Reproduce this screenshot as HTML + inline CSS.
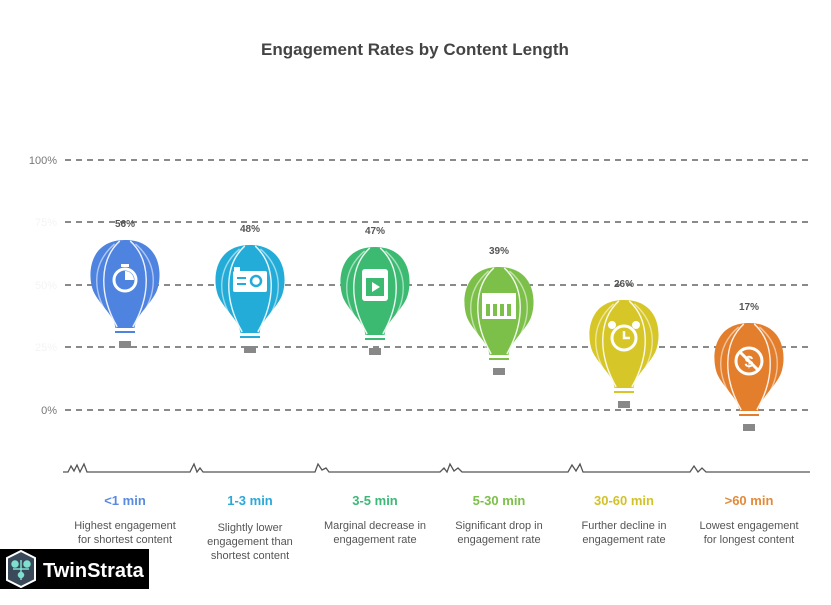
<!DOCTYPE html>
<html><head><meta charset="utf-8"><style>
body{margin:0;background:#fff;width:831px;height:600px;overflow:hidden;font-family:"Liberation Sans",sans-serif}
</style></head><body>
<svg width="831" height="600" xmlns="http://www.w3.org/2000/svg" font-family="Liberation Sans, sans-serif">
<rect width="831" height="600" fill="#fff"/>
<text x="415" y="55" text-anchor="middle" font-size="17" font-weight="bold" fill="#444">Engagement Rates by Content Length</text>
<g stroke="#444" stroke-width="1.3" stroke-dasharray="6,5">
<line x1="65" y1="160" x2="812" y2="160"/><line x1="65" y1="222" x2="812" y2="222"/><line x1="65" y1="285" x2="812" y2="285"/><line x1="65" y1="347" x2="812" y2="347"/><line x1="65" y1="410" x2="812" y2="410"/>
</g>
<g font-size="11" fill="#777" text-anchor="end">
<text x="57" y="164">100%</text><text x="57" y="414">0%</text>
<text x="57" y="226" fill="#f4f4f4">75%</text><text x="57" y="289" fill="#f4f4f4">50%</text><text x="57" y="351" fill="#f4f4f4">25%</text>
</g>
<defs>
<g id="b">
<g transform="scale(0.87,1)">
<path d="M0,0 C42,0 44,36 36,52 C28,66 12,76 11,88 L-11,88 C-12,76 -28,66 -36,52 C-44,36 -42,0 0,0 Z"/>
<g fill="none" stroke="#fff" stroke-width="1.6" opacity="0.9">
<path d="M-6,1 C-30,20 -30,55 -9,87"/><path d="M6,1 C30,20 30,55 9,87"/>
<path d="M-12,4 C-40,25 -38,55 -14,82" opacity="0.6"/><path d="M12,4 C40,25 38,55 14,82" opacity="0.6"/>
</g>
</g>
<rect x="-10" y="89" width="20" height="2" fill="#fff" stroke="none"/>
<rect x="-10" y="91" width="20" height="2"/>
<rect x="-6" y="101" width="12" height="7" fill="#888"/>
</g>
</defs>
<g font-size="10" font-weight="bold" fill="#555" text-anchor="middle">
<g transform="translate(125,240)" fill="#4f83e0"><use href="#b"/><circle cx="0" cy="40" r="11" fill="none" stroke="#fff" stroke-width="3"/><rect x="-4" y="24" width="8" height="3" fill="#fff"/><path d="M0,40 L0,31 A9,9 0 0 1 9,40 Z" fill="#fff"/></g>
<text x="125" y="227">56%</text>
<g transform="translate(250,245)" fill="#24acd9"><use href="#b"/><rect x="-17" y="26" width="34" height="21" rx="2" fill="#fff"/><rect x="-16" y="22" width="6" height="4" fill="#fff"/><circle cx="6" cy="36" r="5" fill="none" stroke="#24acd9" stroke-width="2.5"/><rect x="-13" y="32" width="9" height="2" fill="#24acd9"/><rect x="-13" y="38" width="9" height="2" fill="#24acd9"/></g>
<text x="250" y="232">48%</text>
<g transform="translate(375,247)" fill="#3cba72"><use href="#b"/><rect x="-13" y="22" width="26" height="32" rx="3" fill="#fff"/><rect x="-9" y="31" width="18" height="18" fill="#3cba72"/><path d="M-3,35 L5,40 L-3,45 Z" fill="#fff"/></g>
<text x="375" y="234">47%</text>
<g transform="translate(499,267)" fill="#7cc04a"><use href="#b"/><rect x="-17" y="26" width="34" height="26" fill="#fff"/><g fill="#7cc04a"><rect x="-13" y="37" width="4" height="12"/><rect x="-6" y="37" width="4" height="12"/><rect x="1" y="37" width="4" height="12"/><rect x="8" y="37" width="4" height="12"/></g></g>
<text x="499" y="254">39%</text>
<g transform="translate(624,300)" fill="#d7c628"><use href="#b"/><circle cx="0" cy="38" r="12" fill="none" stroke="#fff" stroke-width="3"/><path d="M0,31 L0,38 L6,38" fill="none" stroke="#fff" stroke-width="2.5"/><circle cx="-12" cy="25" r="4" fill="#fff"/><circle cx="12" cy="25" r="4" fill="#fff"/></g>
<text x="624" y="287">26%</text>
<g transform="translate(749,323)" fill="#e37e2c"><use href="#b"/><circle cx="0" cy="38" r="13" fill="none" stroke="#fff" stroke-width="3"/><path d="M-9,29 L9,47" stroke="#fff" stroke-width="3"/><text x="0" y="44" fill="#fff" font-size="16">$</text></g>
<text x="749" y="310">17%</text>
</g>
<g fill="none" stroke="#555" stroke-width="1.3">
<path d="M63,472 L68,472 L71,466 L74,471 L77,465 L80,472 L84,464 L87,472 L190,472 L194,464 L197,472 L200,468 L203,472 L315,472 L318,464 L322,470 L326,468 L329,472 L440,472 L444,468 L447,472 L450,464 L454,471 L458,468 L462,472 L568,472 L572,465 L576,471 L580,464 L583,472 L690,472 L694,466 L698,472 L702,468 L706,472 L810,472"/>
</g>
<g font-size="13" font-weight="bold" text-anchor="middle">
<text x="125" y="505" fill="#5a8ae0">&lt;1 min</text>
<text x="250" y="505" fill="#2aa8d8">1-3 min</text>
<text x="375" y="505" fill="#3db878">3-5 min</text>
<text x="499" y="505" fill="#7cc04a">5-30 min</text>
<text x="624" y="505" fill="#d2c22a">30-60 min</text>
<text x="749" y="505" fill="#e28a3a">&gt;60 min</text>
</g>
<g font-size="11" fill="#555" text-anchor="middle">
<text x="125" y="529">Highest engagement</text><text x="125" y="543">for shortest content</text>
<text x="250" y="531">Slightly lower</text><text x="250" y="545">engagement than</text><text x="250" y="559">shortest content</text>
<text x="375" y="529">Marginal decrease in</text><text x="375" y="543">engagement rate</text>
<text x="499" y="529">Significant drop in</text><text x="499" y="543">engagement rate</text>
<text x="624" y="529">Further decline in</text><text x="624" y="543">engagement rate</text>
<text x="749" y="529">Lowest engagement</text><text x="749" y="543">for longest content</text>
</g>
<rect x="0" y="549" width="149" height="40" fill="#000"/>
<path d="M21,551 L35,558 L35,580 L21,587 L7,580 L7,558 Z" fill="#3a4a5a" stroke="#fff" stroke-width="2"/>
<g stroke="#7fe0d0" stroke-width="1.5" fill="#7fe0d0"><line x1="21" y1="560" x2="21" y2="580"/><line x1="13" y1="569" x2="29" y2="569"/><circle cx="15" cy="564" r="3"/><circle cx="27" cy="564" r="3"/><circle cx="21" cy="575" r="2.5"/></g>
<text x="43" y="577" font-size="20" font-weight="bold" fill="#fff">TwinStrata</text>
</svg>
</body></html>
